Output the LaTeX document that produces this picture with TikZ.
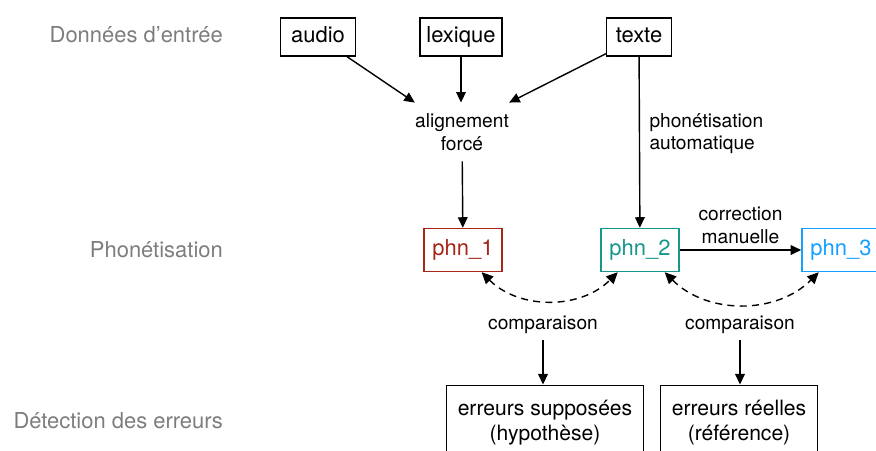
\documentclass[tikz,border=0pt]{standalone}
\usepackage{fontspec}
\setmainfont{TeX Gyre Heros}
\usetikzlibrary{arrows.meta}
\definecolor{phnred}{RGB}{166,38,24}
\definecolor{phnteal}{RGB}{22,150,140}
\definecolor{phnblue}{RGB}{20,160,255}
\definecolor{stagegray}{RGB}{125,125,125}
\tikzstyle{databox}=[draw,line width=0.8pt,minimum height=21.5pt,inner xsep=2pt,text height=9pt,text depth=2.5pt,font=\fontsize{12.5}{15}\selectfont]
\tikzstyle{phnbox}=[draw,line width=0.8pt,minimum height=24.5pt,minimum width=44.5pt,font=\fontsize{12.5}{15}\selectfont]
\tikzstyle{errbox}=[draw,line width=0.8pt,minimum height=43pt,inner xsep=6.5pt,align=center,font=\fontsize{12}{14.2}\selectfont]
\tikzstyle{stage}=[anchor=east,text=stagegray,font=\fontsize{12.5}{15}\selectfont]
\tikzstyle{step label}=[align=center,font=\fontsize{10.9}{13}\selectfont]
\tikzstyle{edge} = [draw,line width=0.8pt,-{Triangle[length=6pt,width=5.5pt]}]
\tikzstyle{compedge} = [draw,line width=0.8pt,dash pattern=on 4pt off 3pt,{Triangle[length=6.5pt,width=6pt]}-{Triangle[length=6.5pt,width=6pt]}]

\begin{document}
\begin{tikzpicture}[x=0.02cm,y=-0.02cm]
    \clip (0,0) rectangle (876,450);

    % stages
    \node[stage] (stage1) at (229,35) {Données d’entrée};
    \node[stage] (stage2) at (229,250) {Phonétisation};
    \node[stage] (stage3) at (229,421) {Détection des erreurs};

    % input data
    \foreach \pos/\name/\boxwidth in {{(318,37)/audio/43pt}, {(461,37)/lexique/46.5pt}, {(639,37)/texte/37pt}}
        \node[databox, minimum width=\boxwidth] (\name) at \pos {\name};

    \node[step label, inner xsep=0pt, inner ysep=6pt] (align) at (462,132) {alignement\\forcé};

    \path[edge] (audio) -- (align.north west);
    \path[edge] (lexique) -- (lexique |- align.north);
    \path[edge] (texte) -- (align.north east);

    % phonetisations
    \node[phnbox, draw=phnred, text=phnred] (phn1) at (463,250) {phn\_1};
    \node[phnbox, draw=phnteal, text=phnteal] (phn2) at (640,250) {phn\_2};
    \node[phnbox, draw=phnblue, text=phnblue] (phn3) at (841,250) {phn\_3};

    \path[edge] (align) -- (phn1);
    \path[edge] (texte) -- node[step label, right, align=left, pos=0.45, xshift=2pt] {phonétisation\\automatique} (phn2);
    \path[edge] (phn2) -- node[step label, above] {correction\\manuelle} (phn3);

    % comparisons
    \path[compedge] (phn1.-50) to[bend right=45] (phn2.-135);
    \path[compedge] (phn2.-42) to[bend right=45] (phn3.-135);

    \node[step label] (comp1) at (543,325) {comparaison};
    \node[step label] (comp2) at (740,325) {comparaison};

    % errors
    \node[errbox] (err1) at (545,423) {erreurs supposées\\(hypothèse)};
    \node[errbox] (err2) at (739,423) {erreurs réelles\\(référence)};

    \path[edge] (comp1) -- (comp1 |- err1.north);
    \path[edge] (comp2) -- (comp2 |- err2.north);
\end{tikzpicture}
\end{document}
